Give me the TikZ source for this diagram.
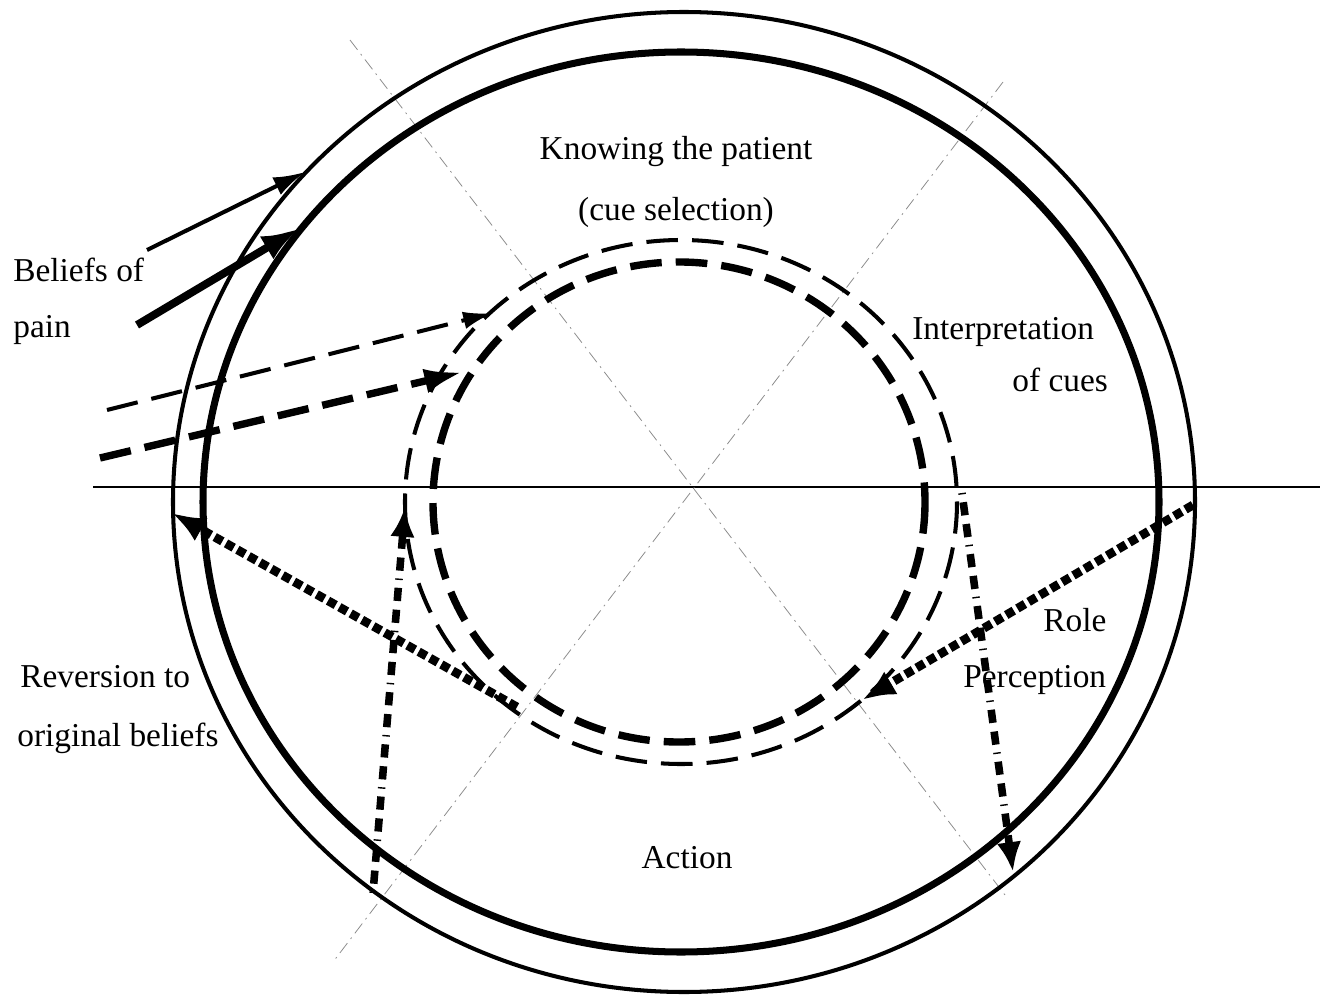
\documentclass[tikz,border=0pt]{standalone}
\usepackage{fontspec}
\setmainfont{Liberation Serif}
\usepackage{tikz}
\usetikzlibrary{arrows.meta}

\begin{document}
\begin{tikzpicture}[x=0.02cm, y=-0.02cm,
  lbl/.style={font=\fontsize{19}{22}\selectfont, inner sep=0pt},
  guide/.style={black!45, line width=0.45pt, dash pattern=on 7pt off 3pt on 1pt off 3pt},
  solidthin/.style={line width=2.3pt, -{Latex[length=18pt, width=11pt]}},
  solidthick/.style={line width=4.5pt, -{Latex[length=22pt, width=15pt]}},
  dashthin/.style={line width=2.3pt, dash pattern=on 18pt off 8pt},
  dashthick/.style={line width=4.2pt, dash pattern=on 18pt off 8pt},
  dotthick/.style={line width=5pt, dash pattern=on 5pt off 2.4pt, -{Latex[length=19pt, width=15pt]}},
  dashdot/.style={line width=4.3pt, dash pattern=on 0.8pt off 4.5pt on 7.5pt off 5pt on 7.5pt off 4.5pt, -{Latex[length=17pt, width=14pt]}}]
\useasboundingbox (0,0) rectangle (1326,997);

% guide lines
\draw[line width=0.6pt] (93,487) -- (1320,487);
\draw[guide] (350,40) -- (1005,895);
\draw[guide] (1003,82) -- (333,962);

% rings
\draw[line width=2.3pt] (684,502) ellipse [x radius=511, y radius=490];
\draw[line width=4pt] (681,502) ellipse [x radius=478, y radius=450];
\draw[dashthin] (681,502) ellipse [x radius=276, y radius=262];
\draw[dashthick] (679,502) ellipse [x radius=246, y radius=240];

% end points
\coordinate (belA) at (147,250);  \coordinate (belAtip) at (305,172);
\coordinate (belB) at (137,325);  \coordinate (belBtip) at (300,228);
\coordinate (cueA) at (107,410);  \coordinate (cueAtip) at (493,313);
\coordinate (cueB) at (100,458);  \coordinate (cueBtip) at (463,372);
\coordinate (role0) at (1193,505); \coordinate (roleTip) at (862,700);
\coordinate (rev0) at (517,707);   \coordinate (revTip) at (172,513);
\coordinate (actL0) at (373,893);  \coordinate (actLtip) at (405,507);
\coordinate (actR0) at (962,493);  \coordinate (actRtip) at (1013,872);

% arrows
\draw[solidthin] (belA) -- (belAtip);
\draw[solidthick] (belB) -- (belBtip);
\draw[dashthin, -{Latex[length=17pt, width=10pt]}] (cueA) -- (cueAtip);
\draw[dashthick, -{Latex[length=22pt, width=14pt]}] (cueB) -- (cueBtip);
\draw[dotthick] (role0) -- (roleTip);
\draw[dotthick] (rev0) -- (revTip);
\draw[dashdot] (actL0) -- (actLtip);
\draw[dashdot] (actR0) -- (actRtip);

% labels
\node[lbl] (know) at (676,152) {Knowing the patient};
\node[lbl] (cuesel) at (676,212) {(cue selection)};
\node[lbl, anchor=west] (interp) at (912,332) {Interpretation};
\node[lbl, anchor=west] (ofcues) at (1012,380) {of cues};
\node[lbl, anchor=west] (role) at (1043,620) {Role};
\node[lbl, anchor=west] (percep) at (963,680) {Perception};
\node[lbl] (action) at (687,858) {Action};
\node[lbl, anchor=west] (beliefs) at (13,270) {Beliefs of};
\node[lbl, anchor=west] (pain) at (13,330) {pain};
\node[lbl, anchor=west] (revert) at (20,677) {Reversion to};
\node[lbl, anchor=west] (orig) at (17,738) {original beliefs};
\end{tikzpicture}
\end{document}
